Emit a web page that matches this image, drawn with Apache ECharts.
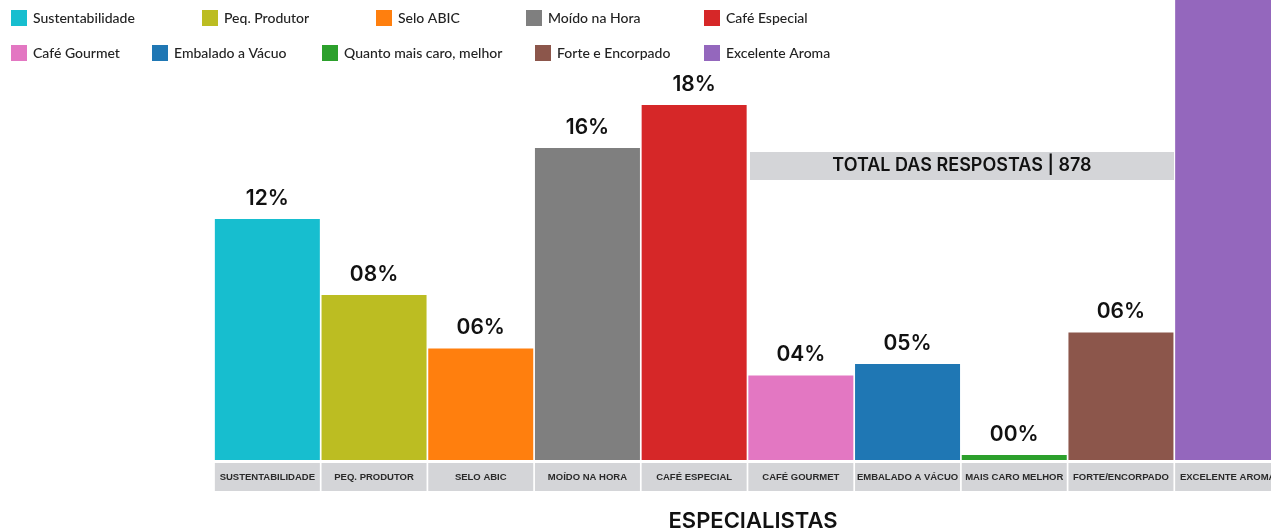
<!DOCTYPE html>
<html>
<head>
<meta charset="utf-8">
<script src="https://cdn.jsdelivr.net/npm/echarts@6/dist/echarts.min.js"></script>
<style>
html,body{margin:0;padding:0;background:#fff;}
#chart{width:1271px;height:529px;}
</style>
</head>
<body>
<div id="chart"></div>
<script>
const seriesNames = ['Sustentabilidade','Peq. Produtor','Selo ABIC','Moído na Hora','Café Especial','Café Gourmet','Embalado a Vácuo','Quanto mais caro, melhor','Forte e Encorpado','Excelente Aroma'];
const categories = ['SUSTENTABILIDADE','PEQ. PRODUTOR','SELO ABIC','MOÍDO NA HORA','CAFÉ ESPECIAL','CAFÉ GOURMET','EMBALADO A VÁCUO','MAIS CARO MELHOR','FORTE/ENCORPADO','EXCELENTE AROMA'];
const values = [12.05, 8.25, 5.58, 15.6, 17.75, 4.23, 4.8, 0.25, 6.37, 25];
const colors = ['#17becf','#bcbd22','#ff7f0e','#7f7f7f','#d62728','#e377c2','#1f77b4','#2ca02c','#8c564b','#9467bd'];
const totalText = 'TOTAL DAS RESPOSTAS | 878';
const chartTitle = 'ESPECIALISTAS';

const legendPos = [[11,10],[202,10],[376,10],[526,10],[704,10],[11,45],[152,45],[322,45],[535,45],[704,45]];

const chart = echarts.init(document.getElementById('chart'));
const series = seriesNames.map((n, i) => ({
  name: n,
  type: 'bar',
  stack: 'all',
  barWidth: 105,
  itemStyle: { color: colors[i] },
  label: {
    show: true, position: 'top', distance: 10,
    fontFamily: 'Inter', fontSize: 21, fontWeight: 600, color: '#111',
    formatter: p => String(Math.round(p.value)).padStart(2, '0') + '%'
  },
  data: categories.map((c, j) => j === i ? values[i] : '-')
}));

const legends = seriesNames.map((n, i) => ({
  data: [n],
  left: legendPos[i][0], top: legendPos[i][1], padding: 0,
  icon: 'rect', itemWidth: 16, itemHeight: 16, itemGap: 0,
  textStyle: { fontFamily: 'Lato', fontSize: 14, fontWeight: 500, color: '#222', padding: [0,0,0,1] },
  selectedMode: false
}));

chart.setOption({
  animation: false,
  legend: legends,
  title: {
    text: chartTitle, left: 748, textAlign: 'center', top: 505,
    textStyle: { fontFamily: 'Inter', fontSize: 22, fontWeight: 600, color: '#111' }
  },
  grid: { left: 214, right: -10, top: 0, bottom: 69, outerBoundsMode: 'none', containLabel: false },
  xAxis: {
    type: 'category', data: categories,
    axisLine: { show: false }, axisTick: { show: false },
    axisLabel: {
      interval: 0, margin: 3,
      width: 105, height: 28, lineHeight: 28, align: 'center',
      backgroundColor: '#d4d5d8', color: '#2a2a2a',
      fontFamily: 'Liberation Sans', fontSize: 9.5, fontWeight: 'bold',
      overflow: 'truncate'
    }
  },
  yAxis: { type: 'value', min: 0, max: 23, show: false, splitLine: { show: false } },
  graphic: [{
    type: 'group', left: 750, top: 152,
    children: [
      { type: 'rect', shape: { x: 0, y: 0, width: 424, height: 28 }, style: { fill: '#d4d5d8' } },
      { type: 'text', x: 212, y: 14, style: { text: totalText, align: 'center', verticalAlign: 'middle', fontFamily: 'Inter', fontSize: 18, fontWeight: 600, fill: '#111' } }
    ]
  }],
  series: series
});
</script>
</body>
</html>
